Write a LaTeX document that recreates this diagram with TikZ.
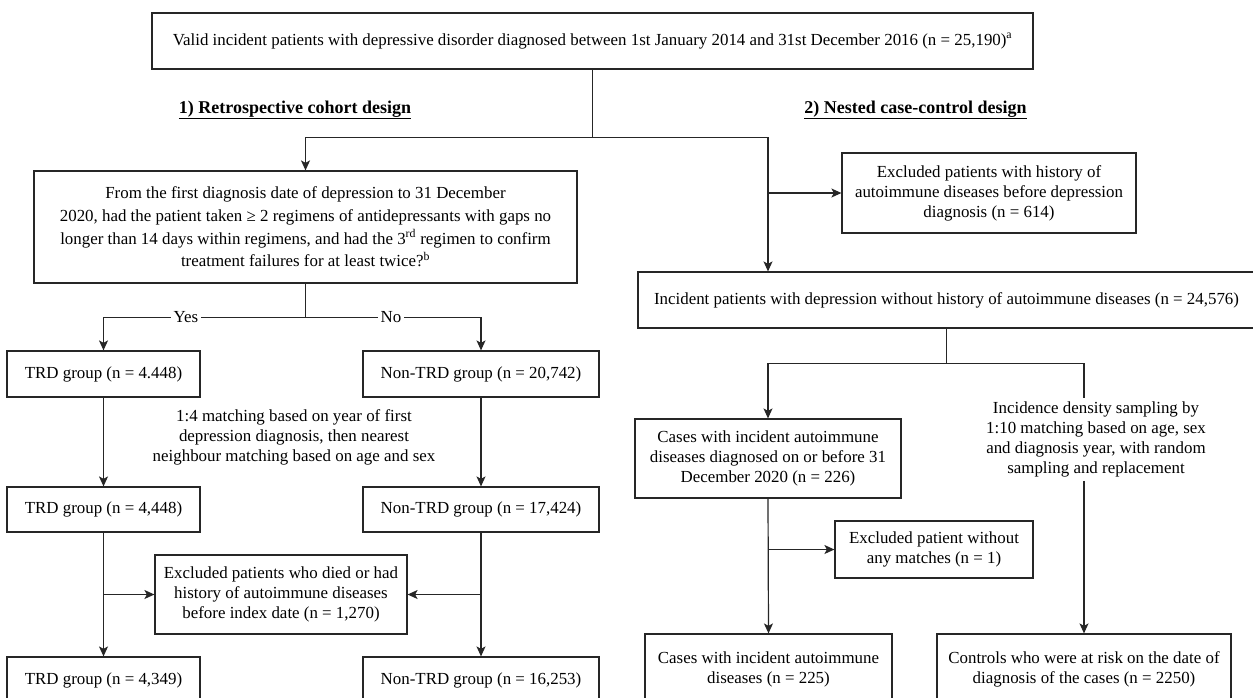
\documentclass[tikz,border=0pt]{standalone}
\usepackage{fontspec}
\setmainfont{Liberation Serif}
\usetikzlibrary{arrows.meta,calc}
\begin{document}
\begin{tikzpicture}[x=1pt,y=-1pt,
  box/.style={draw=black!85, line width=1.2pt, align=center, inner sep=0pt, font=\fontsize{16.9}{20}\selectfont},
  txt/.style={align=center, inner xsep=2pt, inner ysep=3.5pt, font=\fontsize{16.9}{20}\selectfont},
  arr/.style={draw=black!85, line width=1.2pt, -{Stealth[length=10pt,width=9pt,inset=2.5pt]}},
  ln/.style={draw=black!85, line width=1.2pt},
  lab/.style={fill=white, inner sep=3pt, font=\fontsize{16.9}{20}\selectfont},
  head/.style={font=\fontsize{18}{20}\selectfont\bfseries}
]
\clip (0,0) rectangle (1253,697);
\fill[white] (0,0) rectangle (1253,697);

\node[box, minimum width=881pt, minimum height=56pt] (top) at (592.5,41) {Valid incident patients with depressive disorder diagnosed between 1st January 2014 and 31st December 2016 (n = 25,190)\textsuperscript{a}};

\node[head] (h1) at (295,110) {\underline{1) Retrospective cohort design}};
\node[head] (h2) at (915.5,110) {\underline{2) Nested case-control design}};

\node[box, minimum width=543pt, minimum height=112pt, font=\fontsize{16.9}{22.7}\selectfont] (q) at (305.5,227) {From the first diagnosis date of depression to 31 December\\2020, had the patient taken ≥ 2 regimens of antidepressants with gaps no\\longer than 14 days within regimens, and had the 3\textsuperscript{rd} regimen to confirm\\treatment failures for at least twice?\textsuperscript{b}};

\node[box, minimum width=193pt, minimum height=46pt] (trd1) at (103.5,374) {TRD group (n = 4.448)};
\node[box, minimum width=236pt, minimum height=46pt] (ntrd1) at (481,374) {Non-TRD group (n = 20,742)};
\node[txt] (match) at (294,437) {1:4 matching based on year of first\\depression diagnosis, then nearest\\neighbour matching based on age and sex};
\node[box, minimum width=193pt, minimum height=45pt] (trd2) at (103.5,509.5) {TRD group (n = 4,448)};
\node[box, minimum width=236pt, minimum height=45pt] (ntrd2) at (481,509.5) {Non-TRD group (n = 17,424)};
\node[box, minimum width=252pt, minimum height=79pt] (ex1) at (281,594.5) {Excluded patients who died or had\\history of autoimmune diseases\\before index date (n = 1,270)};
\node[box, minimum width=193pt, minimum height=46pt] (trd3) at (103.5,680) {TRD group (n = 4,349)};
\node[box, minimum width=236pt, minimum height=46pt] (ntrd3) at (481,680) {Non-TRD group (n = 16,253)};

\node[box, minimum width=294pt, minimum height=80pt] (ex2) at (989,193) {Excluded patients with history of\\autoimmune diseases before depression\\diagnosis (n = 614)};
\node[box, minimum width=617pt, minimum height=56pt] (inc) at (946.5,300) {Incident patients with depression without history of autoimmune diseases (n = 24,576)};
\node[box, minimum width=266pt, minimum height=79pt] (cases1) at (768,458.5) {Cases with incident autoimmune\\diseases diagnosed on or before 31\\December 2020 (n = 226)};
\node[txt] (incid) at (1096,439.5) {Incidence density sampling by\\1:10 matching based on age, sex\\and diagnosis year, with random\\sampling and replacement};
\node[box, minimum width=198pt, minimum height=57pt] (ex3) at (934,549.5) {Excluded patient without\\any matches (n = 1)};
\node[box, minimum width=247pt, minimum height=71pt] (cases2) at (768.5,669.5) {Cases with incident autoimmune\\diseases (n = 225)};
\node[box, minimum width=294pt, minimum height=71pt] (ctrl) at (1084,669.5) {Controls who were at risk on the date of\\diagnosis of the cases (n = 2250)};

% connectors
\path (top.south) ++(0,68) coordinate (j1);
\draw[ln] (top.south) -- (j1);
\draw[arr] (j1) -| (q.north);
\draw[arr] (j1) -| (inc.north -| cases1.north);
\coordinate (j2) at (cases1.north |- ex2.west);
\draw[arr] (j2) -- (ex2.west);

\path (q.south) ++(0,34) coordinate (j3);
\draw[ln] (q.south) -- (j3);
\draw[arr] (j3) -| (trd1.north);
\draw[arr] (j3) -| (ntrd1.north);
\node[lab] (yes) at (186,317) {Yes};
\node[lab] (no) at (391,317) {No};

\draw[arr] (trd1.south) -- (trd2.north);
\draw[arr] (ntrd1.south) -- (ntrd2.north);
\draw[arr] (trd2.south) -- (trd3.north);
\draw[arr] (ntrd2.south) -- (ntrd3.north);
\draw[arr] (trd2.south |- ex1.west) -- (ex1.west);
\draw[arr] (ntrd2.south |- ex1.east) -- (ex1.east);

\path (inc.south) ++(0,35) coordinate (j4);
\draw[ln] (inc.south) -- (j4);
\draw[arr] (j4) -| (cases1.north);
\draw[ln] (j4) -| (incid.north -| ctrl.north);
\draw[arr] (incid.south -| ctrl.north) -- (ctrl.north);
\draw[arr] (cases1.south) -- (cases2.north);
\draw[arr] (cases1.south |- ex3.west) -- (ex3.west);
\end{tikzpicture}
\end{document}
